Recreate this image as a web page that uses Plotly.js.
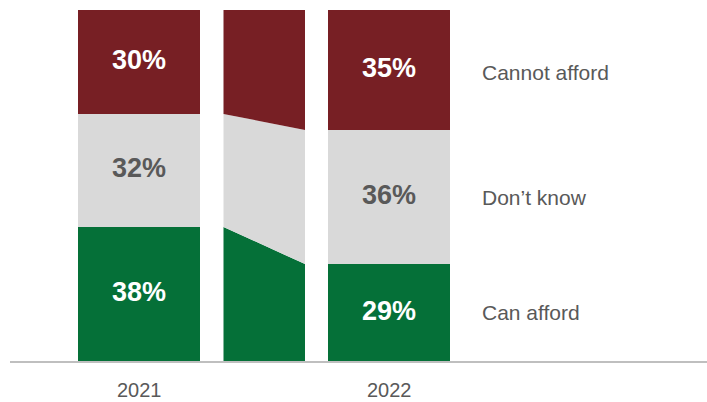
<!DOCTYPE html>
<html>
<head>
<meta charset="utf-8">
<script src="https://cdn.plot.ly/plotly-3.0.1.min.js"></script>
<style>html,body{margin:0;padding:0;background:#fff;}#chart{width:707px;height:402px;}</style>
</head>
<body>
<div id="chart"></div>
<script>
// Data
const years = ["2021", "2022"];
const yearPos = [0, 2];
const categories = ["Can afford", "Don\u2019t know", "Cannot afford"];
const canAfford = [38.2, 27.6];
const dontKnow = [32.2, 38.2];
const cannotAfford = [29.6, 34.2];
const labelsCanAfford = ["38%", "29%"];
const labelsDontKnow = ["32%", "36%"];
const labelsCannotAfford = ["30%", "35%"];

const colors = ["#057038", "#D9D9D9", "#771F24"];
const labelColors = ["#FFFFFF", "#595959", "#FFFFFF"];
const FONT = "Liberation Sans, Arial, sans-serif";

const series = [canAfford, dontKnow, cannotAfford];
const seriesLabels = [labelsCanAfford, labelsDontKnow, labelsCannotAfford];

const traces = [];
const annotations = [];
const barWidth = 0.976;
const connX = [0.676, 1.328];

// cumulative bases
const base = [[0, 0]];
for (let s = 0; s < series.length; s++) {
  base.push([base[s][0] + series[s][0], base[s][1] + series[s][1]]);
}

for (let s = 0; s < series.length; s++) {
  traces.push({
    type: "bar",
    x: yearPos,
    y: series[s],
    base: base[s],
    width: [barWidth, barWidth],
    marker: {color: colors[s], line: {width: 0}},
    hoverinfo: "skip",
    showlegend: false
  });
  // connector polygon
  traces.push({
    type: "scatter",
    mode: "lines",
    x: [connX[0], connX[0], connX[1], connX[1], connX[0]],
    y: [base[s][0], base[s + 1][0], base[s + 1][1], base[s][1], base[s][0]],
    fill: "toself",
    fillcolor: colors[s],
    line: {width: 0, color: colors[s]},
    hoverinfo: "skip",
    showlegend: false
  });
  for (let i = 0; i < yearPos.length; i++) {
    annotations.push({
      x: yearPos[i],
      y: base[s][i] + series[s][i] / 2,
      xref: "x", yref: "y",
      text: "<b>" + seriesLabels[s][i] + "</b>",
      showarrow: false,
      yshift: 2,
      font: {family: FONT, size: 27, color: labelColors[s]}
    });
  }
  // category labels at right of 2022 bar
  annotations.push({
    x: 2.728,
    y: base[s][1] + series[s][1] / 2,
    xref: "x", yref: "y",
    xanchor: "left",
    text: categories[s],
    showarrow: false,
    yshift: s === 2 ? -2 : 0,
    font: {family: FONT, size: 21, color: "#595959"}
  });
}

for (let i = 0; i < years.length; i++) {
  annotations.push({
    x: yearPos[i], y: -0.083,
    xref: "x", yref: "paper",
    text: years[i],
    showarrow: false,
    yanchor: "middle",
    font: {family: FONT, size: 20, color: "#595959"}
  });
}

const layout = {
  width: 707, height: 402,
  margin: {l: 10, r: 0, t: 10, b: 41, pad: 0},
  paper_bgcolor: "#fff", plot_bgcolor: "#fff",
  barmode: "overlay",
  xaxis: {
    range: [-1.032, 4.544],
    showgrid: false, zeroline: false,
    showline: true, linecolor: "#BFBFBF", linewidth: 1.5,
    showticklabels: false, ticks: "", fixedrange: true
  },
  yaxis: {
    range: [0, 100],
    showgrid: false, zeroline: false, showline: false,
    showticklabels: false, ticks: "", fixedrange: true
  },
  annotations: annotations,
  showlegend: false
};

Plotly.newPlot("chart", traces, layout, {displayModeBar: false, staticPlot: true});
</script>
</body>
</html>
